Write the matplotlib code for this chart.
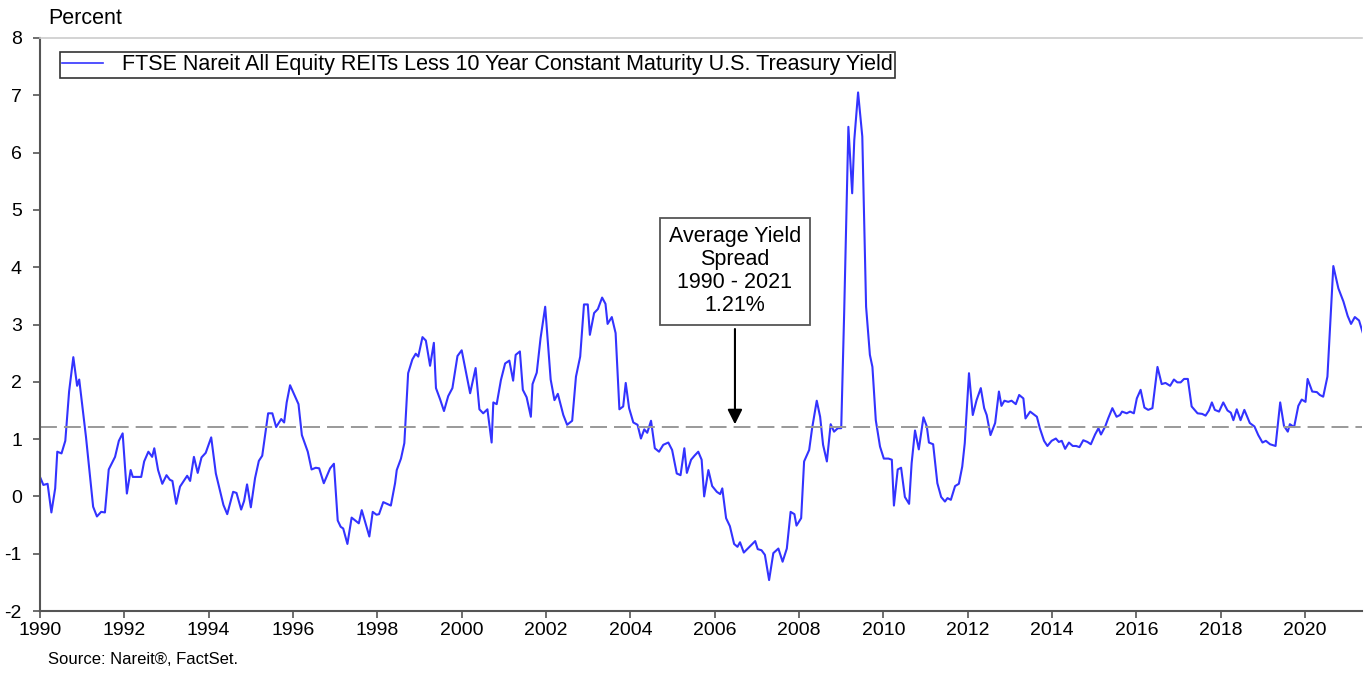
import numpy as np
import matplotlib.pyplot as plt
from matplotlib.lines import Line2D

plt.rcParams['font.family'] = ['Liberation Sans', 'DejaVu Sans']
plt.rcParams['axes.unicode_minus'] = False

# spread readings (decimal year, percent)
years = [
    1990.00, 1990.08, 1990.18, 1990.27, 1990.36, 1990.41, 1990.51, 1990.60, 1990.69, 1990.79,
    1990.88, 1990.93, 1991.09, 1991.26, 1991.35, 1991.45, 1991.54, 1991.63, 1991.78, 1991.87,
    1991.96, 1992.06, 1992.15, 1992.20, 1992.40, 1992.47, 1992.57, 1992.66, 1992.71, 1992.80,
    1992.90, 1993.00, 1993.08, 1993.14, 1993.23, 1993.32, 1993.49, 1993.56, 1993.65, 1993.74,
    1993.83, 1993.93, 1994.06, 1994.17, 1994.35, 1994.44, 1994.58, 1994.66, 1994.77, 1994.84,
    1994.91, 1995.00, 1995.10, 1995.19, 1995.27, 1995.41, 1995.51, 1995.60, 1995.72, 1995.79,
    1995.85, 1995.93, 1996.13, 1996.21, 1996.35, 1996.44, 1996.54, 1996.62, 1996.73, 1996.88,
    1996.97, 1997.06, 1997.13, 1997.19, 1997.29, 1997.39, 1997.56, 1997.63, 1997.81, 1997.89,
    1997.98, 1998.04, 1998.14, 1998.32, 1998.42, 1998.46, 1998.56, 1998.64, 1998.73, 1998.83,
    1998.91, 1998.97, 1999.07, 1999.15, 1999.25, 1999.34, 1999.39, 1999.49, 1999.58, 1999.68,
    1999.78, 1999.90, 2000.00, 2000.20, 2000.33, 2000.42, 2000.51, 2000.61, 2000.71, 2000.75,
    2000.83, 2000.93, 2001.03, 2001.13, 2001.22, 2001.28, 2001.38, 2001.45, 2001.54, 2001.64,
    2001.68, 2001.78, 2001.87, 2001.98, 2002.11, 2002.20, 2002.28, 2002.41, 2002.50, 2002.62,
    2002.71, 2002.81, 2002.90, 2002.99, 2003.04, 2003.14, 2003.23, 2003.33, 2003.41, 2003.46,
    2003.56, 2003.65, 2003.74, 2003.83, 2003.89, 2003.97, 2004.07, 2004.17, 2004.25, 2004.33,
    2004.40, 2004.49, 2004.58, 2004.68, 2004.78, 2004.90, 2004.99, 2005.10, 2005.19, 2005.28,
    2005.34, 2005.44, 2005.52, 2005.61, 2005.69, 2005.75, 2005.85, 2005.94, 2006.05, 2006.13,
    2006.18, 2006.27, 2006.36, 2006.46, 2006.54, 2006.60, 2006.69, 2006.84, 2006.96, 2007.02,
    2007.11, 2007.19, 2007.29, 2007.39, 2007.51, 2007.61, 2007.71, 2007.80, 2007.89, 2007.94,
    2008.05, 2008.12, 2008.24, 2008.31, 2008.42, 2008.50, 2008.57, 2008.66, 2008.75, 2008.83,
    2008.92, 2009.00, 2009.07, 2009.13, 2009.17, 2009.26, 2009.31, 2009.40, 2009.50, 2009.59,
    2009.68, 2009.74, 2009.82, 2009.92, 2010.01, 2010.12, 2010.20, 2010.25, 2010.34, 2010.42,
    2010.51, 2010.61, 2010.67, 2010.75, 2010.84, 2010.95, 2011.03, 2011.08, 2011.18, 2011.28,
    2011.37, 2011.46, 2011.52, 2011.60, 2011.70, 2011.79, 2011.87, 2011.93, 2012.03, 2012.12,
    2012.21, 2012.31, 2012.39, 2012.45, 2012.54, 2012.65, 2012.74, 2012.80, 2012.87, 2012.96,
    2013.04, 2013.14, 2013.22, 2013.32, 2013.37, 2013.48, 2013.64, 2013.71, 2013.81, 2013.89,
    2013.99, 2014.09, 2014.16, 2014.23, 2014.31, 2014.40, 2014.49, 2014.57, 2014.65, 2014.74,
    2014.84, 2014.92, 2015.02, 2015.10, 2015.16, 2015.26, 2015.33, 2015.43, 2015.53, 2015.61,
    2015.66, 2015.77, 2015.85, 2015.94, 2016.01, 2016.10, 2016.19, 2016.28, 2016.38, 2016.50,
    2016.60, 2016.69, 2016.80, 2016.89, 2016.97, 2017.05, 2017.13, 2017.22, 2017.31, 2017.45,
    2017.56, 2017.64, 2017.72, 2017.79, 2017.86, 2017.96, 2018.06, 2018.16, 2018.24, 2018.30,
    2018.38, 2018.47, 2018.56, 2018.69, 2018.80, 2018.89, 2018.99, 2019.07, 2019.17, 2019.30,
    2019.41, 2019.50, 2019.59, 2019.64, 2019.74, 2019.84, 2019.92, 2020.01, 2020.06, 2020.17,
    2020.28, 2020.35, 2020.43, 2020.53, 2020.67, 2020.79, 2020.91, 2021.01, 2021.09, 2021.18,
    2021.28, 2021.40,
]
spread = [
    0.34, 0.20, 0.22, -0.28, 0.14, 0.78, 0.75, 0.97, 1.83, 2.43,
    1.93, 2.04, 1.04, -0.18, -0.35, -0.27, -0.28, 0.47, 0.69, 0.97,
    1.10, 0.05, 0.46, 0.34, 0.34, 0.61, 0.78, 0.69, 0.84, 0.46,
    0.22, 0.37, 0.29, 0.27, -0.13, 0.17, 0.36, 0.27, 0.69, 0.41,
    0.68, 0.76, 1.03, 0.40, -0.15, -0.31, 0.08, 0.06, -0.23, -0.08,
    0.21, -0.19, 0.32, 0.62, 0.71, 1.45, 1.45, 1.21, 1.35, 1.29,
    1.64, 1.94, 1.61, 1.07, 0.78, 0.47, 0.50, 0.49, 0.23, 0.49,
    0.57, -0.42, -0.53, -0.56, -0.83, -0.37, -0.47, -0.24, -0.70, -0.27,
    -0.32, -0.31, -0.10, -0.16, 0.23, 0.46, 0.66, 0.93, 2.15, 2.39,
    2.49, 2.44, 2.78, 2.72, 2.28, 2.68, 1.89, 1.69, 1.49, 1.75,
    1.89, 2.45, 2.55, 1.80, 2.24, 1.52, 1.45, 1.52, 0.94, 1.64,
    1.61, 2.03, 2.32, 2.37, 2.02, 2.47, 2.53, 1.86, 1.73, 1.39,
    1.96, 2.16, 2.76, 3.31, 2.04, 1.68, 1.79, 1.42, 1.25, 1.32,
    2.09, 2.44, 3.35, 3.35, 2.82, 3.20, 3.27, 3.47, 3.36, 3.01,
    3.13, 2.85, 1.52, 1.57, 1.98, 1.54, 1.29, 1.25, 1.01, 1.17,
    1.11, 1.32, 0.84, 0.78, 0.90, 0.94, 0.81, 0.40, 0.37, 0.84,
    0.41, 0.64, 0.71, 0.78, 0.64, 0.00, 0.46, 0.18, 0.08, 0.04,
    0.14, -0.38, -0.52, -0.83, -0.88, -0.80, -0.98, -0.87, -0.78, -0.92,
    -0.94, -1.02, -1.46, -0.99, -0.91, -1.14, -0.91, -0.27, -0.31, -0.51,
    -0.38, 0.61, 0.81, 1.19, 1.67, 1.39, 0.90, 0.61, 1.26, 1.13,
    1.19, 1.19, 3.20, 5.17, 6.45, 5.29, 6.22, 7.05, 6.28, 3.31,
    2.47, 2.26, 1.33, 0.87, 0.66, 0.66, 0.64, -0.16, 0.47, 0.50,
    -0.01, -0.13, 0.58, 1.15, 0.82, 1.38, 1.22, 0.94, 0.91, 0.23,
    -0.01, -0.09, -0.03, -0.06, 0.18, 0.22, 0.52, 0.93, 2.15, 1.42,
    1.68, 1.89, 1.54, 1.42, 1.07, 1.28, 1.83, 1.58, 1.67, 1.65,
    1.67, 1.61, 1.77, 1.71, 1.36, 1.48, 1.39, 1.19, 0.97, 0.88,
    0.97, 1.01, 0.95, 0.97, 0.83, 0.94, 0.88, 0.88, 0.86, 0.98,
    0.95, 0.91, 1.08, 1.19, 1.08, 1.22, 1.36, 1.54, 1.39, 1.42,
    1.48, 1.45, 1.48, 1.45, 1.71, 1.86, 1.55, 1.51, 1.54, 2.26,
    1.96, 1.98, 1.93, 2.04, 1.99, 1.99, 2.05, 2.05, 1.57, 1.45,
    1.44, 1.41, 1.50, 1.64, 1.51, 1.48, 1.64, 1.50, 1.46, 1.33,
    1.52, 1.33, 1.51, 1.28, 1.22, 1.07, 0.94, 0.97, 0.91, 0.88,
    1.64, 1.23, 1.13, 1.26, 1.21, 1.58, 1.69, 1.65, 2.05, 1.83,
    1.82, 1.77, 1.74, 2.09, 4.02, 3.63, 3.40, 3.15, 3.01, 3.13,
    3.07, 2.78,
]
average = 1.21
year_ticks = list(range(1990, 2021, 2))
pct_ticks = list(range(-2, 9))
series_label = 'FTSE Nareit All Equity REITs Less 10 Year Constant Maturity U.S. Treasury Yield'
note_text = 'Average Yield\nSpread\n1990 - 2021\n1.21%'

fig = plt.figure(figsize=(13.64, 6.77), dpi=100)
ax = fig.add_axes([40 / 1364, 1 - 611 / 677, 1322 / 1364, 573 / 677])

ax.plot(years, spread, color='#3333ff', lw=1.5)
ax.axhline(average, color='#999999', lw=1.4, dashes=(8.7, 3.6))

ax.set_xlim(1990, 2021.35)
ax.set_ylim(-2, 8)
ax.set_xticks(year_ticks)
ax.set_yticks(pct_ticks)
ax.tick_params(axis='both', labelsize=14, length=5, width=1.2, color='#555555', direction='out')
ax.tick_params(axis='y', pad=8)
ax.tick_params(axis='x', pad=3)

for side in ['left', 'bottom']:
    ax.spines[side].set_color('#555555')
    ax.spines[side].set_linewidth(1.5)
ax.spines['top'].set_color('#cccccc')
ax.spines['top'].set_linewidth(1.2)
ax.spines['right'].set_visible(False)

handle = Line2D([], [], color='#3333ff', lw=1.2)
leg = ax.legend([handle], [series_label], loc='upper left', bbox_to_anchor=(0.015, 0.975),
                fontsize=15.5, frameon=True, fancybox=False, edgecolor='black',
                borderpad=0.1, handlelength=1.9, handletextpad=0.9, borderaxespad=0)
leg.get_frame().set_linewidth(1.2)

note_x = 2006.48
ax.text(note_x, 3.93, note_text, ha='center', va='center', fontsize=15.5, linespacing=1.12,
        bbox=dict(boxstyle='square,pad=0.4', facecolor='white', edgecolor='#555555', lw=1.3))
ax.annotate('', xy=(note_x, average), xytext=(note_x, 2.97),
            arrowprops=dict(arrowstyle='-|>', color='black', lw=1.5, mutation_scale=22))

fig.text(48 / 1364, 1 - 18 / 677, 'Percent', fontsize=15.5, va='center', ha='left')
fig.text(48 / 1364, 1 - 660 / 677, 'Source: Nareit®, FactSet.', fontsize=12, va='center', ha='left')

fig.savefig('out.png', dpi=100)
